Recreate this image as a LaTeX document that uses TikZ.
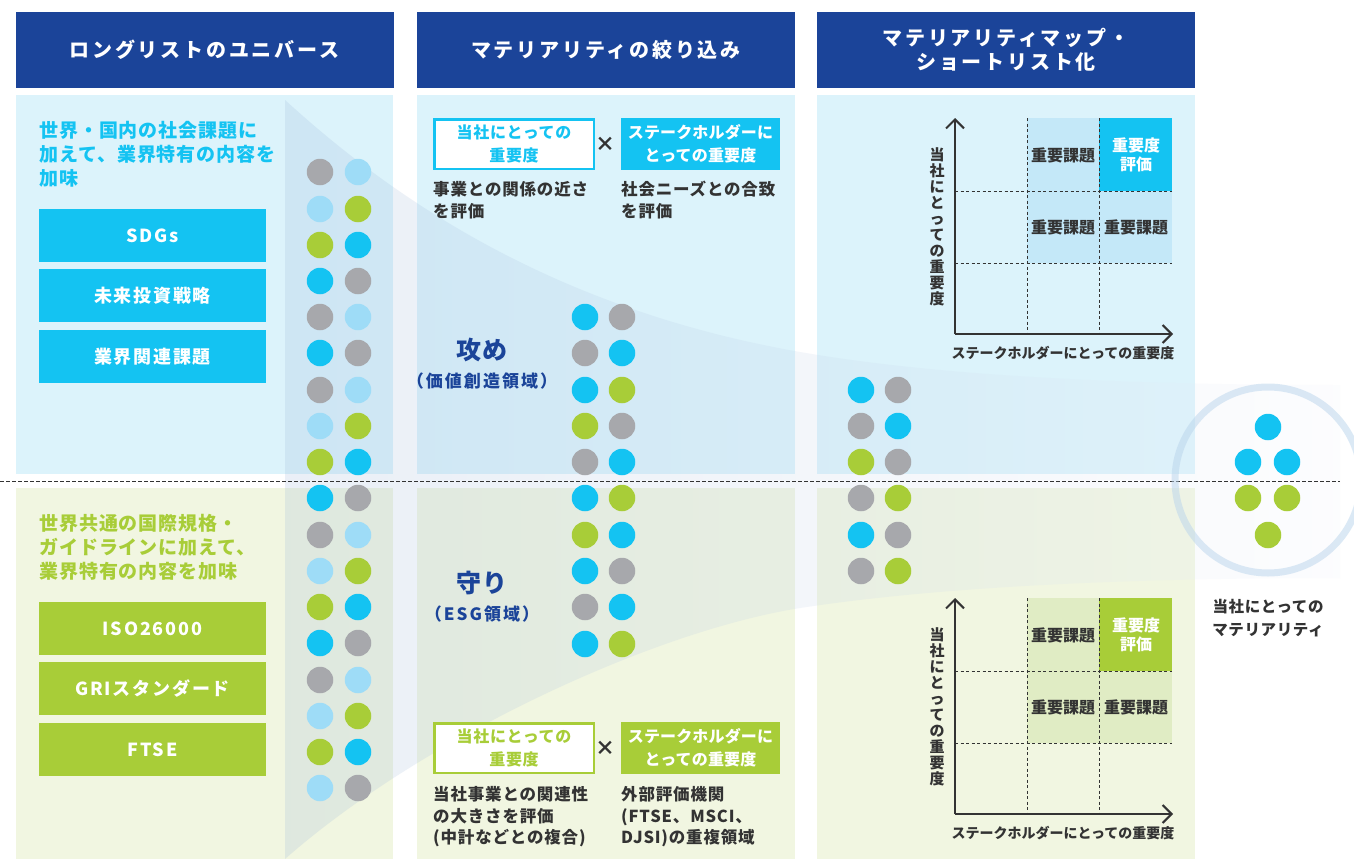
\documentclass[tikz,border=0pt]{standalone}
\usepackage{fontspec}
\setmainfont{Noto Sans CJK JP}
\usetikzlibrary{arrows.meta}
\definecolor{hdblue}{RGB}{27,68,153}
\definecolor{skybg}{RGB}{220,243,251}
\definecolor{leafbg}{RGB}{241,246,225}
\definecolor{cyanc}{RGB}{20,195,242}
\definecolor{palecyan}{RGB}{158,220,247}
\definecolor{dotgray}{RGB}{167,168,172}
\definecolor{leafc}{RGB}{168,205,56}
\definecolor{inkc}{RGB}{51,51,51}
\definecolor{cellsky}{RGB}{196,232,248}
\definecolor{cellleaf}{RGB}{224,236,196}
\definecolor{funnelL}{RGB}{150,178,215}
\definecolor{funnelM}{RGB}{172,190,224}
\definecolor{funnelR}{RGB}{242,245,252}
\definecolor{ringc}{RGB}{185,212,236}
\newcommand{\trk}[1]{\addfontfeature{LetterSpace=#1}}
\newcommand{\fsz}[2]{\fontsize{#1}{#2}\selectfont}
\begin{document}
\begin{tikzpicture}[x=1pt,y=-1pt,
    every node/.style={inner sep=0pt},
    hdbox/.style={fill=hdblue,text=white,minimum width=378,minimum height=76,align=center,font=\bfseries\fsz{20}{24}\trk{14}},
    tagbox/.style={minimum width=227,minimum height=53,text=white,font=\bfseries\fsz{18}{20}\trk{10}},
    skytag/.style={tagbox,fill=cyanc},
    leaftag/.style={tagbox,fill=leafc},
    leadtxt/.style={anchor=north west,align=left,font=\bfseries\fsz{19}{23.8}\trk{5}},
    ownbox/.style={fill=white,line width=2.5,minimum width=159.5,minimum height=49.5,align=center,font=\bfseries\fsz{16}{23}\trk{4}},
    shbox/.style={text=white,minimum width=159,minimum height=52,align=center,font=\bfseries\fsz{16}{23}\trk{1}},
    timestxt/.style={text=inkc,font=\bfseries\fsz{20}{20}},
    notetxt/.style={anchor=north west,align=left,text=inkc,font=\bfseries\fsz{16.5}{21.8}\trk{5}},
    zonetxt/.style={text=hdblue,font=\bfseries\fsz{25}{28}\trk{6}},
    zonesub/.style={text=hdblue,font=\bfseries\fsz{17}{20}\trk{12}},
    celltxt/.style={text=inkc,align=center,font=\bfseries\fsz{16}{19}},
    axtxt/.style={text=inkc,align=center,font=\bfseries\fsz{14}{16}},
    vaxtxt/.style={text=inkc,align=center,font=\bfseries\fsz{15}{16}},
    axisln/.style={line width=2,draw=inkc,-{Straight Barb[length=9pt,width=18pt]}},
    gridln/.style={draw=inkc,line width=0.9,dash pattern=on 3pt off 2.5pt},
    dot/.style={circle,minimum size=26.5},
    dg/.style={dot,fill=dotgray},
    dc/.style={dot,fill=cyanc},
    dp/.style={dot,fill=palecyan},
    dl/.style={dot,fill=leafc}]
\useasboundingbox (0,0) rectangle (1354,859);
\fill[white] (0,0) rectangle (1354,859);

\fill[skybg] (16,95) rectangle (393,474);
\fill[skybg] (417,95) rectangle (795,474);
\fill[skybg] (817,95) rectangle (1195,474);
\fill[leafbg] (16,488) rectangle (393,859);
\fill[leafbg] (417,488) rectangle (795,859);
\fill[leafbg] (817,488) rectangle (1195,859);

\node[hdbox] (hd1) at (204.5,50) {ロングリストのユニバース};
\node[hdbox] (hd2) at (606,50) {マテリアリティの絞り込み};
\node[hdbox] (hd3) at (1006,50) {マテリアリティマップ・\\ショートリスト化};

\shade[left color=funnelL,middle color=funnelM,right color=funnelR,fill opacity=0.2]
  (285,100) .. controls (400,205) and (560,310) .. (800,352)
  .. controls (950,378) and (1150,385) .. (1340,385) -- (1340,578)
  .. controls (1150,578) and (950,585) .. (800,608)
  .. controls (650,632) and (420,740) .. (285,859) -- cycle;

\draw[draw=inkc,line width=0.9,dash pattern=on 3.5pt off 2.5pt] (0,481) -- (1340,481);
\draw[draw=ringc,draw opacity=0.5,line width=7] (1268,480) circle (93pt);

\node[leadtxt,text=cyanc] (lead1) at (39,121) {世界・国内の社会課題に\\加えて、業界特有の内容を\\加味};
\node[skytag] (sdg) at (152.5,235.5) {SDGs};
\node[skytag] (mirai) at (152.5,295.5) {未来投資戦略};
\node[skytag] (gyokai) at (152.5,356.5) {業界関連課題};
\node[leadtxt,text=leafc] (lead2) at (39,514) {世界共通の国際規格・\\ガイドラインに加えて、\\業界特有の内容を加味};
\node[leaftag] (iso) at (152.5,628.5) {ISO26000};
\node[leaftag] (gri) at (152.5,688.5) {GRIスタンダード};
\node[leaftag] (ftse) at (152.5,749.5) {FTSE};

\node[dg] (la1) at (320,172) {}; \node[dp] (lb1) at (358,172) {};
\node[dp] (la2) at (320,209) {}; \node[dl] (lb2) at (358,209) {};
\node[dl] (la3) at (320,245) {}; \node[dc] (lb3) at (358,245) {};
\node[dc] (la4) at (320,281) {}; \node[dg] (lb4) at (358,281) {};
\node[dg] (la5) at (320,317) {}; \node[dp] (lb5) at (358,317) {};
\node[dc] (la6) at (320,353) {}; \node[dg] (lb6) at (358,353) {};
\node[dg] (la7) at (320,390) {}; \node[dp] (lb7) at (358,390) {};
\node[dp] (la8) at (320,426) {}; \node[dl] (lb8) at (358,426) {};
\node[dl] (la9) at (320,462) {}; \node[dc] (lb9) at (358,462) {};
\node[dc] (la10) at (320,498) {}; \node[dg] (lb10) at (358,498) {};
\node[dg] (la11) at (320,535) {}; \node[dp] (lb11) at (358,535) {};
\node[dp] (la12) at (320,571) {}; \node[dl] (lb12) at (358,571) {};
\node[dl] (la13) at (320,607) {}; \node[dc] (lb13) at (358,607) {};
\node[dc] (la14) at (320,643) {}; \node[dg] (lb14) at (358,643) {};
\node[dg] (la15) at (320,680) {}; \node[dp] (lb15) at (358,680) {};
\node[dp] (la16) at (320,716) {}; \node[dl] (lb16) at (358,716) {};
\node[dl] (la17) at (320,752) {}; \node[dc] (lb17) at (358,752) {};
\node[dp] (la18) at (320,788) {}; \node[dg] (lb18) at (358,788) {};

\node[ownbox,draw=cyanc,text=cyanc] (own1) at (514,144) {当社にとっての\\重要度};
\node[timestxt] (times1) at (605,144) {×};
\node[shbox,fill=cyanc] (stake1) at (700.5,144) {ステークホルダーに\\とっての重要度};
\node[notetxt] (note1) at (433,181) {事業との関係の近さ\\を評価};
\node[notetxt] (note2) at (621,181) {社会ニーズとの合致\\を評価};
\node[zonetxt] (seme) at (482,350) {攻め};
\node[zonesub] (semesub) at (482,381) {（価値創造領域）};
\node[zonetxt] (mamori) at (482,583) {守り};
\node[zonesub] (mamorisub) at (482,614) {（ESG領域）};
\node[ownbox,draw=leafc,text=leafc] (own2) at (514,748) {当社にとっての\\重要度};
\node[timestxt] (times2) at (605,748) {×};
\node[shbox,fill=leafc] (stake2) at (700.5,748) {ステークホルダーに\\とっての重要度};
\node[notetxt] (note3) at (433,786) {当社事業との関連性\\の大きさを評価\\(中計などとの複合)};
\node[notetxt] (note4) at (621,786) {外部評価機関\\(FTSE、MSCI、\\DJSI)の重複領域};

\node[dc] (ma1) at (585,317) {}; \node[dg] (mb1) at (622,317) {};
\node[dg] (ma2) at (585,353) {}; \node[dc] (mb2) at (622,353) {};
\node[dc] (ma3) at (585,390) {}; \node[dl] (mb3) at (622,390) {};
\node[dl] (ma4) at (585,426) {}; \node[dg] (mb4) at (622,426) {};
\node[dg] (ma5) at (585,462) {}; \node[dc] (mb5) at (622,462) {};
\node[dc] (ma6) at (585,498) {}; \node[dl] (mb6) at (622,498) {};
\node[dl] (ma7) at (585,535) {}; \node[dc] (mb7) at (622,535) {};
\node[dc] (ma8) at (585,571) {}; \node[dg] (mb8) at (622,571) {};
\node[dg] (ma9) at (585,607) {}; \node[dc] (mb9) at (622,607) {};
\node[dc] (ma10) at (585,644) {}; \node[dl] (mb10) at (622,644) {};

\node[dc] (ra1) at (861,390) {}; \node[dg] (rb1) at (898,390) {};
\node[dg] (ra2) at (861,426) {}; \node[dc] (rb2) at (898,426) {};
\node[dl] (ra3) at (861,462) {}; \node[dg] (rb3) at (898,462) {};
\node[dg] (ra4) at (861,498) {}; \node[dl] (rb4) at (898,498) {};
\node[dc] (ra5) at (861,535) {}; \node[dg] (rb5) at (898,535) {};
\node[dg] (ra6) at (861,571) {}; \node[dl] (rb6) at (898,571) {};

\fill[cellsky] (1027,118) rectangle (1099,263);
\fill[cellsky] (1099,191) rectangle (1172,263);
\fill[cyanc] (1099,118) rectangle (1172,191);
\draw[gridln] (1027,118) -- (1027,334);
\draw[gridln] (1099,118) -- (1099,334);
\draw[gridln] (955,191) -- (1172,191);
\draw[gridln] (955,263) -- (1172,263);
\draw[axisln] (955,334) -- (955,118);
\draw[axisln] (955,334) -- (1173,334);
\node[celltxt] (k1) at (1063,155) {重要課題};
\node[celltxt] (k2) at (1063,227) {重要課題};
\node[celltxt] (k3) at (1136,227) {重要課題};
\node[celltxt,text=white] (hy1) at (1136,155) {重要度\\評価};
\node[vaxtxt] (yl1) at (937,227) {当\\社\\に\\と\\っ\\て\\の\\重\\要\\度};
\node[axtxt] (xl1) at (1063,353) {ステークホルダーにとっての重要度};

\fill[cellleaf] (1027,598) rectangle (1099,743);
\fill[cellleaf] (1099,671) rectangle (1172,743);
\fill[leafc] (1099,598) rectangle (1172,671);
\draw[gridln] (1027,598) -- (1027,814);
\draw[gridln] (1099,598) -- (1099,814);
\draw[gridln] (955,671) -- (1172,671);
\draw[gridln] (955,743) -- (1172,743);
\draw[axisln] (955,814) -- (955,598);
\draw[axisln] (955,814) -- (1173,814);
\node[celltxt] (k4) at (1063,635) {重要課題};
\node[celltxt] (k5) at (1063,707) {重要課題};
\node[celltxt] (k6) at (1136,707) {重要課題};
\node[celltxt,text=white] (hy2) at (1136,635) {重要度\\評価};
\node[vaxtxt] (yl2) at (937,707) {当\\社\\に\\と\\っ\\て\\の\\重\\要\\度};
\node[axtxt] (xl2) at (1063,833) {ステークホルダーにとっての重要度};

\node[dc] (fin1) at (1268,427) {};
\node[dc] (fin2) at (1248,462) {}; \node[dc] (fin3) at (1287,462) {};
\node[dl] (fin4) at (1248,498) {}; \node[dl] (fin5) at (1287,498) {};
\node[dl] (fin6) at (1268,535) {};
\node[text=inkc,align=center,font=\bfseries\fsz{15.5}{23}\trk{4}] (mat) at (1268,618) {当社にとっての\\マテリアリティ};
\end{tikzpicture}
\end{document}
